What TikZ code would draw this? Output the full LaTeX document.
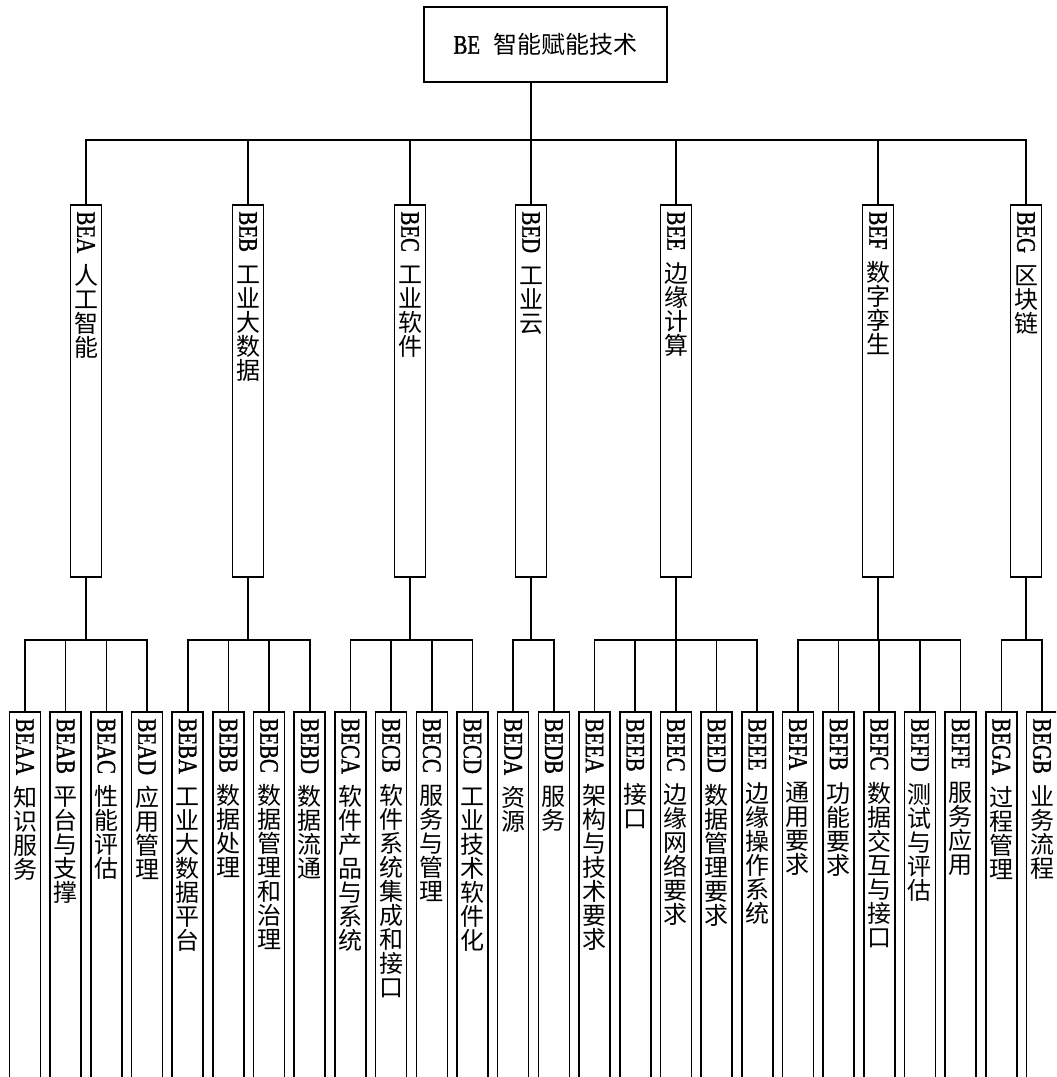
\documentclass[tikz,border=0pt]{standalone}
\usepackage{fontspec}
\setmainfont{Liberation Serif}
\newfontfamily\cjkfont{Noto Sans CJK SC}
\newfontfamily\codefont[FakeStretch=0.78,FakeBold=1.2]{Liberation Serif}
\usepackage{tikz}

\newcommand\codesize{\codefont\fontsize{20}{20}\selectfont}
\newcommand\cjksize{\cjkfont\fontsize{18}{18}\selectfont}

% one upright CJK character per line, fixed pitch
\def\cjkstack#1{\ifx\relax#1\else
  \hbox to 23pt{\hss\vrule height 15.8pt depth 2.2pt width 0pt\cjksize#1\hss}%
  \expandafter\cjkstack\fi}

% rotated code on top, characters stacked below
\newcommand\stacklabel[3]{%
  \vbox to #1{\offinterlineskip
    \vskip 5pt
    \hbox to 23pt{\hss\rotatebox{-90}{\codesize #2}\hss}%
    \vskip 8pt
    \expandafter\cjkstack#3\relax
    \vfil}}

\begin{document}
\begin{tikzpicture}[
  x=0.75pt,
  y=-0.75pt,
  link/.style={
    draw=black,
    line width=1.2pt,
    line cap=rect
  },
  rootbox/.style={
    rectangle,
    draw=black,
    line width=1.2pt,
    minimum width=182.25pt,
    minimum height=56.25pt,
    inner sep=0pt
  },
  techbox/.style={
    rectangle,
    draw=black,
    line width=1.2pt,
    minimum width=23.25pt,
    inner sep=0pt,
    anchor=north
  }
]

\useasboundingbox (0,0) rectangle (1056,1077);
\clip (0,0) rectangle (1056,1077);

\node[rootbox] (root) at (545.5,44.5)
  {{\codesize BE}\hspace{10pt}{\cjksize 智能赋能技术}};

\coordinate (mainbus) at (0,140);
\coordinate (subbus) at (0,640);

% ------------------------------------------------------------
% Second level
% ------------------------------------------------------------

\foreach \n/\x/\code/\txt in {bea/86/BEA/人工智能,beb/248/BEB/工业大数据,
  bec/410/BEC/工业软件,bed/531/BED/工业云,bee/676/BEE/边缘计算,
  bef/878/BEF/数字孪生,beg/1026/BEG/区块链}{
  \node[techbox] (\n) at (\x,204) {\stacklabel{279pt}{\code}{\txt}};
  \draw[link] (\n.north) -- (\n.north |- mainbus);
  \draw[link] (\n.south) -- (\n.south |- subbus);
}

\draw[link] (bea.north |- mainbus) -- (beg.north |- mainbus);
\draw[link] (root.south -| bed.north) -- (bed.north |- mainbus);

% ------------------------------------------------------------
% Third level
% ------------------------------------------------------------

\foreach \n/\i/\code/\txt in {beaa/0/BEAA/知识服务,beab/1/BEAB/平台与支撑,
  beac/2/BEAC/性能评估,bead/3/BEAD/应用管理,beba/4/BEBA/工业大数据平台,
  bebb/5/BEBB/数据处理,bebc/6/BEBC/数据管理和治理,bebd/7/BEBD/数据流通,
  beca/8/BECA/软件产品与系统,becb/9/BECB/软件系统集成和接口,
  becc/10/BECC/服务与管理,becd/11/BECD/工业技术软件化,beda/12/BEDA/资源,
  bedb/13/BEDB/服务,beea/14/BEEA/架构与技术要求,beeb/15/BEEB/接口,
  beec/16/BEEC/边缘网络要求,beed/17/BEED/数据管理要求,
  beee/18/BEEE/边缘操作系统,befa/19/BEFA/通用要求,befb/20/BEFB/功能要求,
  befc/21/BEFC/数据交互与接口,befd/22/BEFD/测试与评估,befe/23/BEFE/服务应用,
  bega/24/BEGA/过程管理,begb/25/BEGB/业务流程}{
  \node[techbox] (\n) at ({25+40.68*\i},711) {\stacklabel{285pt}{\code}{\txt}};
  \draw[link] (\n.north) -- (\n.north |- subbus);
}

\foreach \a/\b in {beaa/bead,beba/bebd,beca/becd,beda/bedb,
  beea/beee,befa/befe,bega/begb}{
  \draw[link] (\a.north |- subbus) -- (\b.north |- subbus);
}
\end{tikzpicture}
\end{document}
